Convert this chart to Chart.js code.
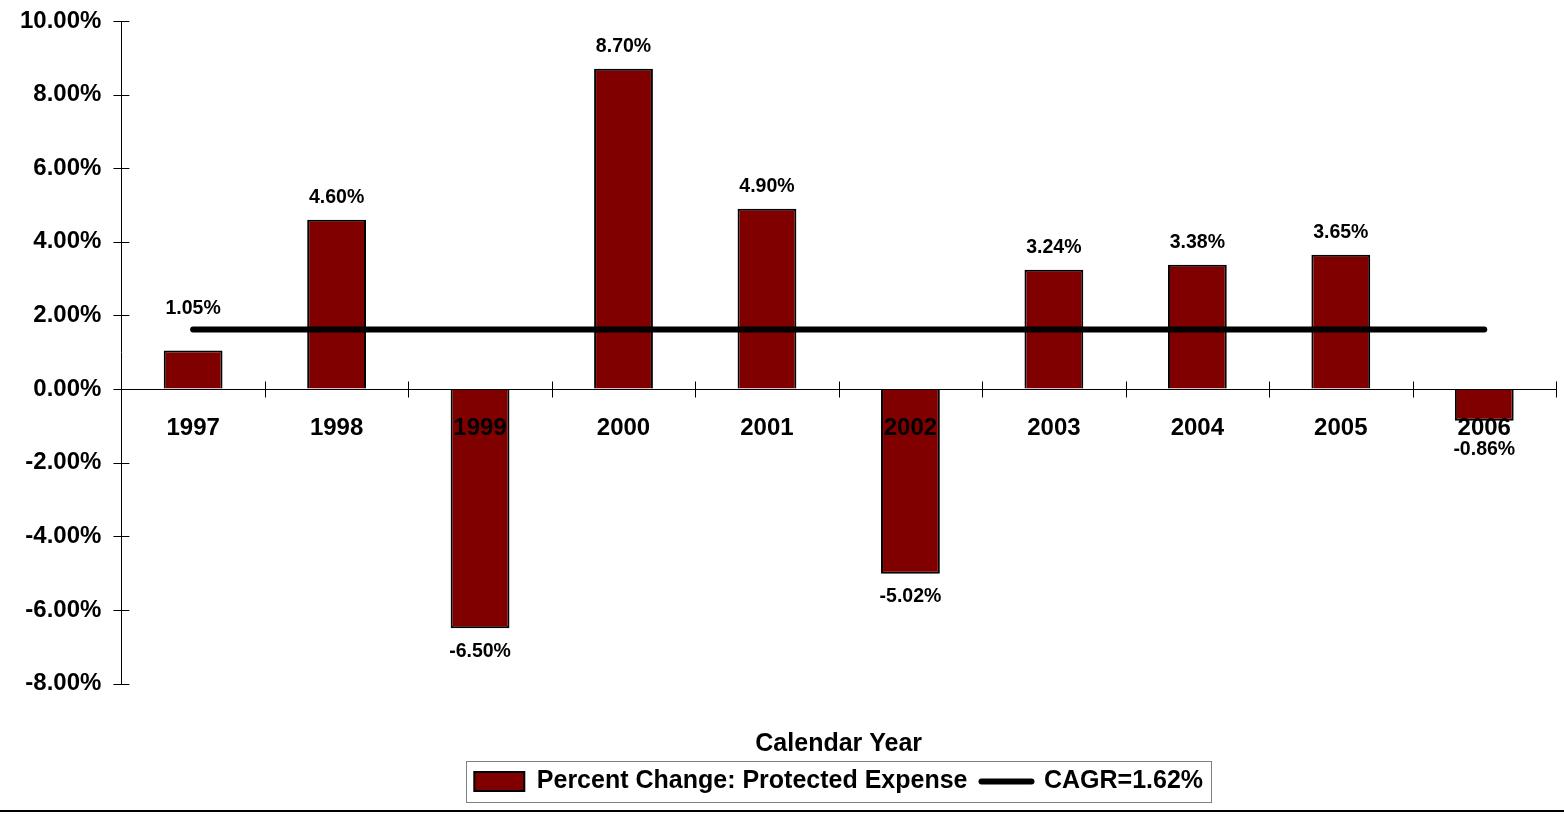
<!DOCTYPE html>
<html>
<head>
<meta charset="utf-8">
<script src="https://cdn.jsdelivr.net/npm/chart.js@4.4.0/dist/chart.umd.min.js"></script>
<style>
  html, body { margin: 0; padding: 0; background: #fff; }
  #wrap { position: relative; width: 1564px; height: 817px; }
</style>
</head>
<body>
<div id="wrap"><canvas id="grafica"></canvas></div>
<script>
// datos
const years = ['1997', '1998', '1999', '2000', '2001', '2002', '2003', '2004', '2005', '2006'];
const pctChange = [1.05, 4.60, -6.50, 8.70, 4.90, -5.02, 3.24, 3.38, 3.65, -0.86];
const cagrLine = [1.62, 1.62, 1.62, 1.62, 1.62, 1.62, 1.62, 1.62, 1.62, 1.62];
const seriesNames = ['Percent Change: Protected Expense', 'CAGR=1.62%'];
const axisTitle = 'Calendar Year';

Chart.defaults.font.family = '"Liberation Sans", Arial, sans-serif';
Chart.defaults.font.weight = 'bold';
Chart.defaults.color = '#000';

// marcas que cruzan los ejes (arriba/abajo y dentro/fuera)
const crossTicks = {
  id: 'crossTicks',
  afterDraw(chart) {
    const { ctx, chartArea, scales: { x, y } } = chart;
    ctx.save();
    ctx.strokeStyle = '#000';
    ctx.lineWidth = 1;
    ctx.beginPath();
    y.ticks.forEach((t, i) => {
      const py = Math.round(y.getPixelForTick(i)) + 0.5;
      ctx.moveTo(chartArea.left - 8, py);
      ctx.lineTo(chartArea.left + 8, py);
    });
    const zy = Math.round(y.getPixelForValue(0)) + 0.5;
    for (let i = 0; i <= years.length; i++) {
      const px = Math.round(x.getPixelForValue(i - 0.5)) + 0.5;
      ctx.moveTo(px, zy - 8);
      ctx.lineTo(px, zy + 8);
    }
    ctx.stroke();

    // linea inferior de la pagina
    ctx.lineWidth = 2;
    ctx.beginPath();
    ctx.moveTo(0, 811);
    ctx.lineTo(chart.width, 811);
    ctx.stroke();

    // marco de la leyenda
    const boxes = chart.legend.legendHitBoxes;
    if (boxes && boxes.length) {
      const l = Math.min(...boxes.map(b => b.left)) - 8;
      const r = Math.max(...boxes.map(b => b.left + b.width)) + 8;
      const t = Math.min(...boxes.map(b => b.top)) - 8;
      const btm = Math.max(...boxes.map(b => b.top + b.height)) + 8;
      ctx.strokeStyle = '#808080';
      ctx.lineWidth = 1;
      ctx.strokeRect(Math.round(l) + 0.5, Math.round(t) + 0.5, Math.round(r - l), Math.round(btm - t));
    }
    ctx.restore();
  }
};

// etiquetas de valor sobre / bajo cada barra
const valueLabels = {
  id: 'valueLabels',
  afterDatasetsDraw(chart) {
    const { ctx, scales: { y } } = chart;
    const meta = chart.getDatasetMeta(1);
    const lineY = y.getPixelForValue(cagrLine[0]);
    const zeroY = y.getPixelForValue(0);
    const yearLabelY = zeroY + 38;
    ctx.save();
    ctx.font = 'bold 19.5px "Liberation Sans", Arial, sans-serif';
    ctx.fillStyle = '#000';
    ctx.textAlign = 'center';
    ctx.textBaseline = 'middle';
    meta.data.forEach((bar, i) => {
      const v = pctChange[i];
      let ly;
      if (v >= 0) {
        ly = bar.y - 22;
        if (Math.abs(ly - lineY) < 16 && bar.y > lineY) ly = lineY - 21;
      } else {
        ly = bar.y + 23;
        if (ly < yearLabelY + 23) ly = yearLabelY + 23;
      }
      ctx.fillText(v.toFixed(2) + '%', bar.x, ly);
    });
    ctx.restore();
  }
};

const ctx = document.getElementById('grafica').getContext('2d');
new Chart(ctx, {
  data: {
    labels: years,
    datasets: [
      {
        type: 'line',
        label: seriesNames[1],
        data: cagrLine,
        borderColor: '#000',
        borderWidth: 6,
        borderCapStyle: 'round',
        pointRadius: 0,
        pointHoverRadius: 0,
        fill: false,
        order: 0
      },
      {
        type: 'bar',
        label: seriesNames[0],
        data: pctChange,
        backgroundColor: '#800000',
        borderColor: '#000',
        borderWidth: 2,
        barPercentage: 0.41,
        categoryPercentage: 1,
        order: 1
      }
    ]
  },
  options: {
    responsive: true,
    maintainAspectRatio: false,
    animation: false,
    layout: { padding: { left: 11, right: 8, top: 0, bottom: 13 } },
    scales: {
      x: {
        type: 'category',
        position: { y: 0 },
        offset: true,
        grid: { display: false },
        border: { display: true, color: '#000', width: 1, z: 1 },
        ticks: { font: { size: 24, weight: 'bold' }, padding: 17, maxRotation: 0, autoSkip: false, z: 1 }
      },
      xTitle: {
        type: 'category',
        position: 'bottom',
        labels: [''],
        grid: { display: false },
        border: { display: false },
        ticks: { display: false },
        title: { display: true, text: axisTitle, font: { size: 25, weight: 'bold', lineHeight: 0.86 }, padding: { top: 42, bottom: 0 } }
      },
      y: {
        min: -8,
        max: 10,
        grid: { display: true, drawOnChartArea: false, drawTicks: true, tickLength: 11, tickColor: 'rgba(0,0,0,0)' },
        border: { display: true, color: '#000', width: 1 },
        ticks: {
          stepSize: 2,
          padding: 9,
          font: { size: 24, weight: 'bold', lineHeight: 1 },
          callback: (v) => v.toFixed(2) + '%'
        }
      }
    },
    plugins: {
      legend: {
        position: 'bottom',
        fullSize: false,
        labels: {
          usePointStyle: true,
          pointStyleWidth: 50,
          boxHeight: 19,
          padding: 14,
          font: { size: 25, weight: 'bold' },
          generateLabels(chart) {
            const ds = chart.data.datasets;
            return [1, 0].map((i) => ({
              text: ds[i].label,
              datasetIndex: i,
              fillStyle: ds[i].type === 'line' ? '#000' : ds[i].backgroundColor,
              strokeStyle: '#000',
              lineWidth: ds[i].type === 'line' ? 6 : 2,
              lineCap: 'round',
              pointStyle: ds[i].type === 'line' ? 'line' : 'rect',
              fontColor: '#000',
              hidden: false
            }));
          }
        }
      },
      tooltip: { enabled: false }
    }
  },
  plugins: [valueLabels, crossTicks]
});
</script>
</body>
</html>
